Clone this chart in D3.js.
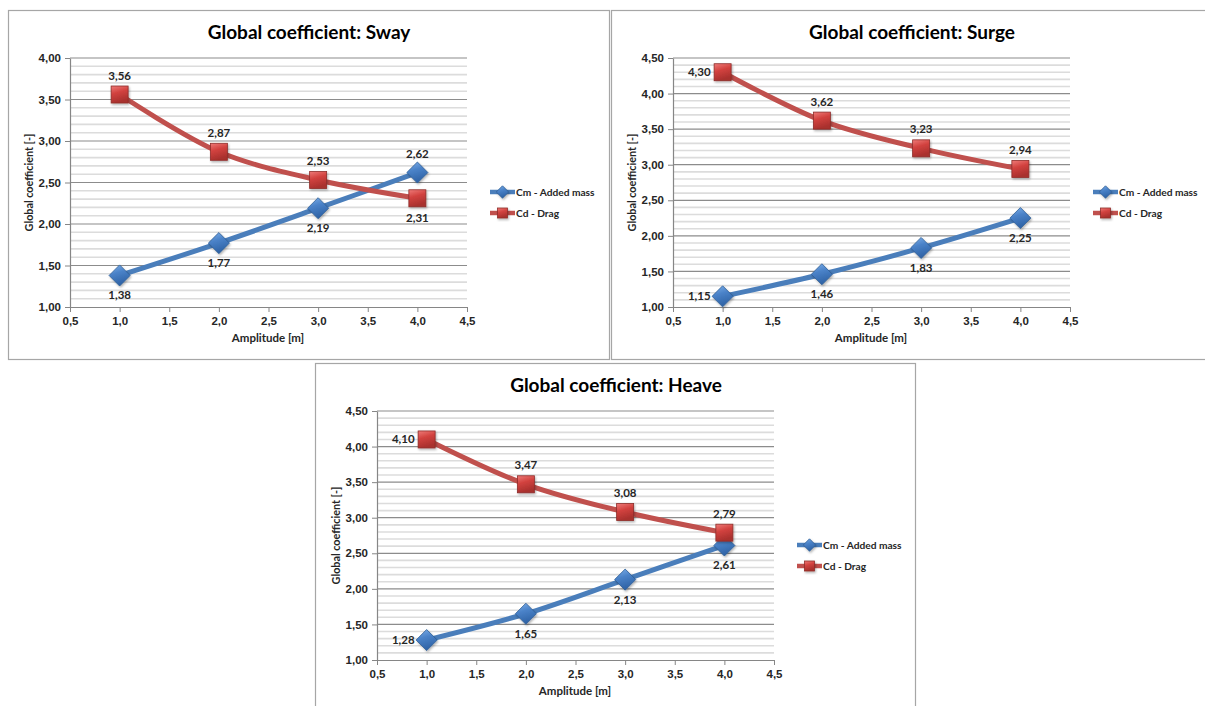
<!DOCTYPE html>
<html>
<head>
<meta charset="utf-8">
<script src="https://cdn.jsdelivr.net/npm/d3@7"></script>
<style>
  html, body { margin: 0; padding: 0; background: #fff; }
  svg { display: block; font-family: Lato, "Open Sans", "Liberation Sans", sans-serif; }
</style>
</head>
<body>
<svg id="chart" width="1205" height="706"></svg>
<script>
// Amplitude of oscillation [m]
const amplitude = [1.0, 2.0, 3.0, 4.0];

// Global coefficients per motion
const swayCm  = [1.38, 1.77, 2.19, 2.62];
const swayCd  = [3.56, 2.87, 2.53, 2.31];
const surgeCm = [1.15, 1.46, 1.83, 2.25];
const surgeCd = [4.30, 3.62, 3.23, 2.94];
const heaveCm = [1.28, 1.65, 2.13, 2.61];
const heaveCd = [4.10, 3.47, 3.08, 2.79];

const seriesNames = ["Cm - Added mass", "Cd - Drag"];
const chartTitles = ["Global coefficient: Sway", "Global coefficient: Surge", "Global coefficient: Heave"];

// Axis ticks
const xTicks = [0.5, 1.0, 1.5, 2.0, 2.5, 3.0, 3.5, 4.0, 4.5];
const yTicksSway = [1.00, 1.50, 2.00, 2.50, 3.00, 3.50, 4.00];
const yTicksSurgeHeave = [1.00, 1.50, 2.00, 2.50, 3.00, 3.50, 4.00, 4.50];

const xTitle = "Amplitude [m]";
const yTitle = "Global coefficient [-]";

// ---- layout ----
const panels = [
  { box: { x: 8,   y: 10,  w: 602, h: 350 }, title: chartTitles[0], cm: swayCm,  cd: swayCd,  yTicks: yTicksSway,
    cmPos: ["b", "b", "b", "t"], cdPos: ["t", "t", "t", "b"] },
  { box: { x: 611, y: 10,  w: 600, h: 350 }, title: chartTitles[1], cm: surgeCm, cd: surgeCd, yTicks: yTicksSurgeHeave,
    cmPos: ["l", "b", "b", "b"], cdPos: ["l", "t", "t", "t"] },
  { box: { x: 315, y: 363, w: 601, h: 360 }, title: chartTitles[2], cm: heaveCm, cd: heaveCd, yTicks: yTicksSurgeHeave,
    cmPos: ["l", "b", "b", "b"], cdPos: ["l", "t", "t", "t"] }
];

const plot = { l: 62, t: 48, r: 459, b: 297 };
const fmt2 = d => d3.format(".2f")(d).replace(".", ",");
const fmt1 = d => d3.format(".1f")(d).replace(".", ",");

const svg = d3.select("#chart");
const defs = svg.append("defs");

const redGrad = defs.append("linearGradient").attr("id", "redGrad")
  .attr("x1", 0).attr("y1", 0).attr("x2", 0.3).attr("y2", 1);
redGrad.append("stop").attr("offset", "0%").attr("stop-color", "#ee7b78");
redGrad.append("stop").attr("offset", "45%").attr("stop-color", "#d2423f");
redGrad.append("stop").attr("offset", "100%").attr("stop-color", "#a8302d");

const blueGrad = defs.append("linearGradient").attr("id", "blueGrad")
  .attr("x1", 0).attr("y1", 0).attr("x2", 0.3).attr("y2", 1);
blueGrad.append("stop").attr("offset", "0%").attr("stop-color", "#7fb0ea");
blueGrad.append("stop").attr("offset", "45%").attr("stop-color", "#4a82c8");
blueGrad.append("stop").attr("offset", "100%").attr("stop-color", "#2f63a6");

const shadow = defs.append("filter").attr("id", "shadow")
  .attr("x", "-40%").attr("y", "-40%").attr("width", "180%").attr("height", "180%");
shadow.append("feDropShadow").attr("dx", 1).attr("dy", 1.5).attr("stdDeviation", 1)
  .attr("flood-color", "#000").attr("flood-opacity", 0.3);

const styles = {
  cm: { line: "#4a7ebb", fill: "url(#blueGrad)", stroke: "#2f5e95", shape: "diamond" },
  cd: { line: "#c0504d", fill: "url(#redGrad)",  stroke: "#8e2d2a", shape: "square" }
};

function marker(g, shape, cx, cy, size, st) {
  if (shape === "square") {
    g.append("rect")
      .attr("x", cx - size / 2).attr("y", cy - size / 2)
      .attr("width", size).attr("height", size)
      .attr("fill", st.fill).attr("stroke", st.stroke).attr("stroke-width", 0.8)
      .attr("filter", "url(#shadow)");
  } else {
    const h = size * 0.62;
    g.append("path")
      .attr("d", `M${cx},${cy - h}L${cx + h},${cy}L${cx},${cy + h}L${cx - h},${cy}Z`)
      .attr("fill", st.fill).attr("stroke", st.stroke).attr("stroke-width", 0.8)
      .attr("filter", "url(#shadow)");
  }
}

panels.forEach(p => {
  const g = svg.append("g").attr("transform", `translate(${p.box.x},${p.box.y})`);

  // chart frame
  g.append("rect").attr("x", 0.5).attr("y", 0.5)
    .attr("width", p.box.w - 1).attr("height", p.box.h - 1)
    .attr("fill", "#fff").attr("stroke", "#a6a6a6").attr("stroke-width", 1.2);

  const yMin = p.yTicks[0], yMax = p.yTicks[p.yTicks.length - 1];
  const x = d3.scaleLinear().domain([xTicks[0], xTicks[xTicks.length - 1]]).range([plot.l, plot.r]);
  const y = d3.scaleLinear().domain([yMin, yMax]).range([plot.b, plot.t]);

  // minor gridlines every 0.1
  const minor = d3.range(Math.round(yMin * 10), Math.round(yMax * 10) + 1)
    .map(v => v / 10).filter(v => Math.abs(v * 2 - Math.round(v * 2)) > 1e-6);
  g.append("g").selectAll("line").data(minor).join("line")
    .attr("x1", plot.l).attr("x2", plot.r)
    .attr("y1", d => y(d)).attr("y2", d => y(d))
    .attr("stroke", "#dcdcdc").attr("stroke-width", 1.6);

  // major gridlines
  g.append("g").selectAll("line").data(p.yTicks.slice(1)).join("line")
    .attr("x1", plot.l).attr("x2", plot.r)
    .attr("y1", d => y(d)).attr("y2", d => y(d))
    .attr("stroke", "#8c8c8c").attr("stroke-width", 1.2);

  // y axis
  const yAxis = g.append("g").attr("transform", `translate(${plot.l},0)`)
    .call(d3.axisLeft(y).tickValues(p.yTicks).tickFormat(fmt2).tickSize(5).tickSizeOuter(0).tickPadding(4));
  yAxis.select(".domain").attr("stroke", "#868686").attr("stroke-width", 1.2);
  yAxis.selectAll(".tick line").attr("stroke", "#868686");
  yAxis.selectAll("text").attr("font-size", 11.5).attr("font-weight", 700).attr("fill", "#262626");

  // x axis
  const xAxis = g.append("g").attr("transform", `translate(0,${plot.b})`)
    .call(d3.axisBottom(x).tickValues(xTicks).tickFormat(fmt1).tickSize(5).tickSizeOuter(0).tickPadding(5));
  xAxis.select(".domain").attr("stroke", "#868686").attr("stroke-width", 1.2);
  xAxis.selectAll(".tick line").attr("stroke", "#868686");
  xAxis.selectAll("text").attr("font-size", 11.5).attr("font-weight", 700).attr("fill", "#262626");

  // titles
  g.append("text").attr("x", 301).attr("y", 29).attr("text-anchor", "middle")
    .attr("font-size", 19).attr("font-weight", 700).attr("fill", "#000").text(p.title);
  g.append("text").attr("x", 260).attr("y", 332).attr("text-anchor", "middle")
    .attr("font-size", 11.5).attr("font-weight", 700).attr("fill", "#262626").text(xTitle);
  g.append("text").attr("transform", `translate(25,${(plot.t + plot.b) / 2}) rotate(-90)`)
    .attr("text-anchor", "middle").attr("font-size", 10.8).attr("font-weight", 700)
    .attr("fill", "#262626").text(yTitle);

  // series
  const line = d3.line().x(d => x(d[0])).y(d => y(d[1])).curve(d3.curveCatmullRom.alpha(0.5));
  [["cm", p.cm, p.cmPos], ["cd", p.cd, p.cdPos]].forEach(([key, vals, pos]) => {
    const st = styles[key];
    const pts = amplitude.map((a, i) => [a, vals[i]]);
    g.append("path").datum(pts).attr("d", line)
      .attr("fill", "none").attr("stroke", st.line).attr("stroke-width", 5)
      .attr("stroke-linejoin", "round").attr("stroke-linecap", "round");
    const mg = g.append("g");
    pts.forEach(d => marker(mg, st.shape, x(d[0]), y(d[1]), 17, st));
    g.append("g").selectAll("text").data(pts).join("text")
      .attr("x", (d, i) => pos[i] === "l" ? x(d[0]) - 12 : x(d[0]))
      .attr("y", (d, i) => pos[i] === "t" ? y(d[1]) - 15 : pos[i] === "b" ? y(d[1]) + 24 : y(d[1]) + 4)
      .attr("text-anchor", (d, i) => pos[i] === "l" ? "end" : "middle")
      .attr("font-size", 11.5).attr("font-weight", 700).attr("fill", "#262626")
      .text(d => fmt2(d[1]));
  });

  // legend
  [["cm", 182], ["cd", 203]].forEach(([key, ly], i) => {
    const st = styles[key];
    g.append("line").attr("x1", 482).attr("x2", 507).attr("y1", ly).attr("y2", ly)
      .attr("stroke", st.line).attr("stroke-width", 4.5);
    marker(g, st.shape, 494.5, ly, 10, st);
    g.append("text").attr("x", 508).attr("y", ly + 4)
      .attr("font-size", 10.2).attr("font-weight", 700).attr("fill", "#262626")
      .text(seriesNames[i]);
  });
});
</script>
</body>
</html>
